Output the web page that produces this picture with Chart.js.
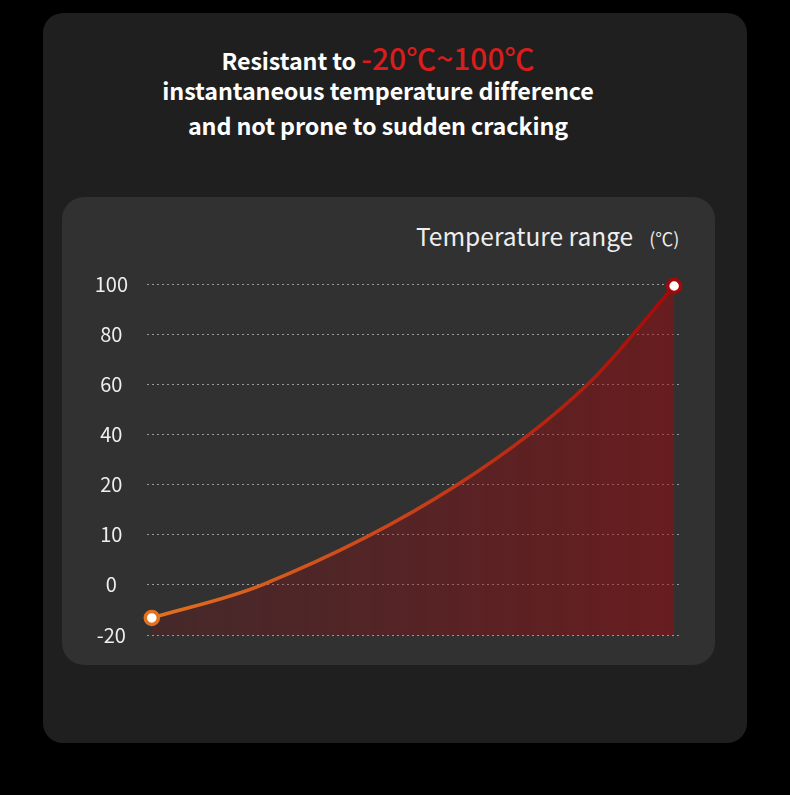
<!DOCTYPE html>
<html>
<head>
<meta charset="utf-8">
<script src="https://cdn.jsdelivr.net/npm/chart.js@4/dist/chart.umd.min.js"></script>
<style>
  html, body { margin:0; padding:0; background:#000; width:790px; height:795px; overflow:hidden; }
  #outer { position:absolute; left:43px; top:13px; width:704px; height:730px; background:#1f1f1f; border-radius:20px; }
  #inner { position:absolute; left:62px; top:197px; width:653px; height:468px; background:#313131; border-radius:22px; }
  .t { position:absolute; left:-17px; width:790px; text-align:center; color:#fff; font-family:"Noto Sans CJK SC","Noto Sans",sans-serif; font-weight:700; white-space:nowrap; letter-spacing:-0.1px; }
  #l1 { top:35px; font-size:23.3px; }
  #l1 .red { color:#d91c1c; font-weight:500; font-size:30px; letter-spacing:0; }
  #l2 { top:73px; font-size:23.3px; }
  #l3 { top:108px; font-size:23.3px; }
  #unit { position:absolute; left:416px; top:218px; color:#eee; font-family:"Noto Sans CJK SC","Noto Sans",sans-serif; font-size:24.5px; white-space:nowrap; }
  #unit span { font-size:18px; margin-left:16px; }
  #wrap { position:absolute; left:80px; top:253px; width:620px; height:413px; }
</style>
</head>
<body>
<div id="outer"></div>
<div id="inner"></div>
<div class="t" id="l1">Resistant to <span class="red">-20℃~100℃</span></div>
<div class="t" id="l2">instantaneous temperature difference</div>
<div class="t" id="l3">and not prone to sudden cracking</div>
<div id="unit">Temperature range<span>(℃)</span></div>
<div id="wrap"><canvas id="c" width="620" height="413"></canvas></div>
<script>
// y-axis tick labels (evenly spaced, non-linear values)
const yTickValues = [-20, 0, 10, 20, 40, 60, 80, 100];
// curve: x position (0-100 across plot) and temperature
const curveX    = [0.9, 21.6, 58.3, 82.7, 98.9];
const curveTemp = [-13.2, 0, 20, 60, 99.2];

// map temperature to evenly spaced tick position
function tempToPos(t) {
  for (let i = 0; i < yTickValues.length - 1; i++) {
    const a = yTickValues[i], b = yTickValues[i + 1];
    if (t <= b || i === yTickValues.length - 2) return i + (t - a) / (b - a);
  }
  return 0;
}
const points = curveX.map((x, i) => ({ x: x, y: tempToPos(curveTemp[i]) }));
const n = points.length;

const ctx = document.getElementById('c').getContext('2d');
new Chart(ctx, {
  type: 'line',
  data: {
    datasets: [{
      data: points,
      cubicInterpolationMode: 'monotone',
      clip: false,
      borderWidth: 3.5,
      borderColor: (c) => {
        const a = c.chart.chartArea; if (!a) return '#c03010';
        const g = c.chart.ctx.createLinearGradient(a.left, 0, a.right, 0);
        g.addColorStop(0, '#e4711f'); g.addColorStop(0.5, '#c8401a'); g.addColorStop(1, '#a40808');
        return g;
      },
      fill: 'start',
      backgroundColor: (c) => {
        const a = c.chart.chartArea; if (!a) return 'rgba(150,15,20,0.3)';
        const g = c.chart.ctx.createLinearGradient(a.left, 0, a.right, 0);
        g.addColorStop(0, 'rgba(150,12,18,0.2)'); g.addColorStop(1, 'rgba(160,10,14,0.5)');
        return g;
      },
      pointRadius: points.map((p, i) => (i === 0 || i === n - 1) ? 6.5 : 0),
      pointHoverRadius: 0,
      pointBackgroundColor: '#ffffff',
      pointBorderWidth: 3.5,
      pointBorderColor: points.map((p, i) => i === 0 ? '#e4711f' : '#a40808'),
    }]
  },
  options: {
    responsive: false,
    animation: false,
    events: [],
    layout: { padding: { top: 14, bottom: 16, right: 20, left: 0 } },
    plugins: { legend: { display: false }, tooltip: { enabled: false } },
    scales: {
      x: { type: 'linear', min: 0, max: 100, display: false },
      y: {
        type: 'linear', min: 0, max: yTickValues.length - 1,
        afterFit: (s) => { s.width = 67; },
        afterBuildTicks: (s) => { s.ticks = yTickValues.map((v, i) => ({ value: i })); },
        ticks: {
          callback: (v) => String(yTickValues[v]),
          color: '#eeeeee',
          font: { family: '"Noto Sans CJK SC", "Noto Sans", sans-serif', size: 20 },
          crossAlign: 'center',
          padding: 19,
        },
        border: { display: false, dash: [2, 3] },
        grid: {
          drawTicks: false,
          color: 'rgba(190,190,190,0.75)',
          lineWidth: 1,
        }
      }
    }
  }
});
</script>
</body>
</html>
